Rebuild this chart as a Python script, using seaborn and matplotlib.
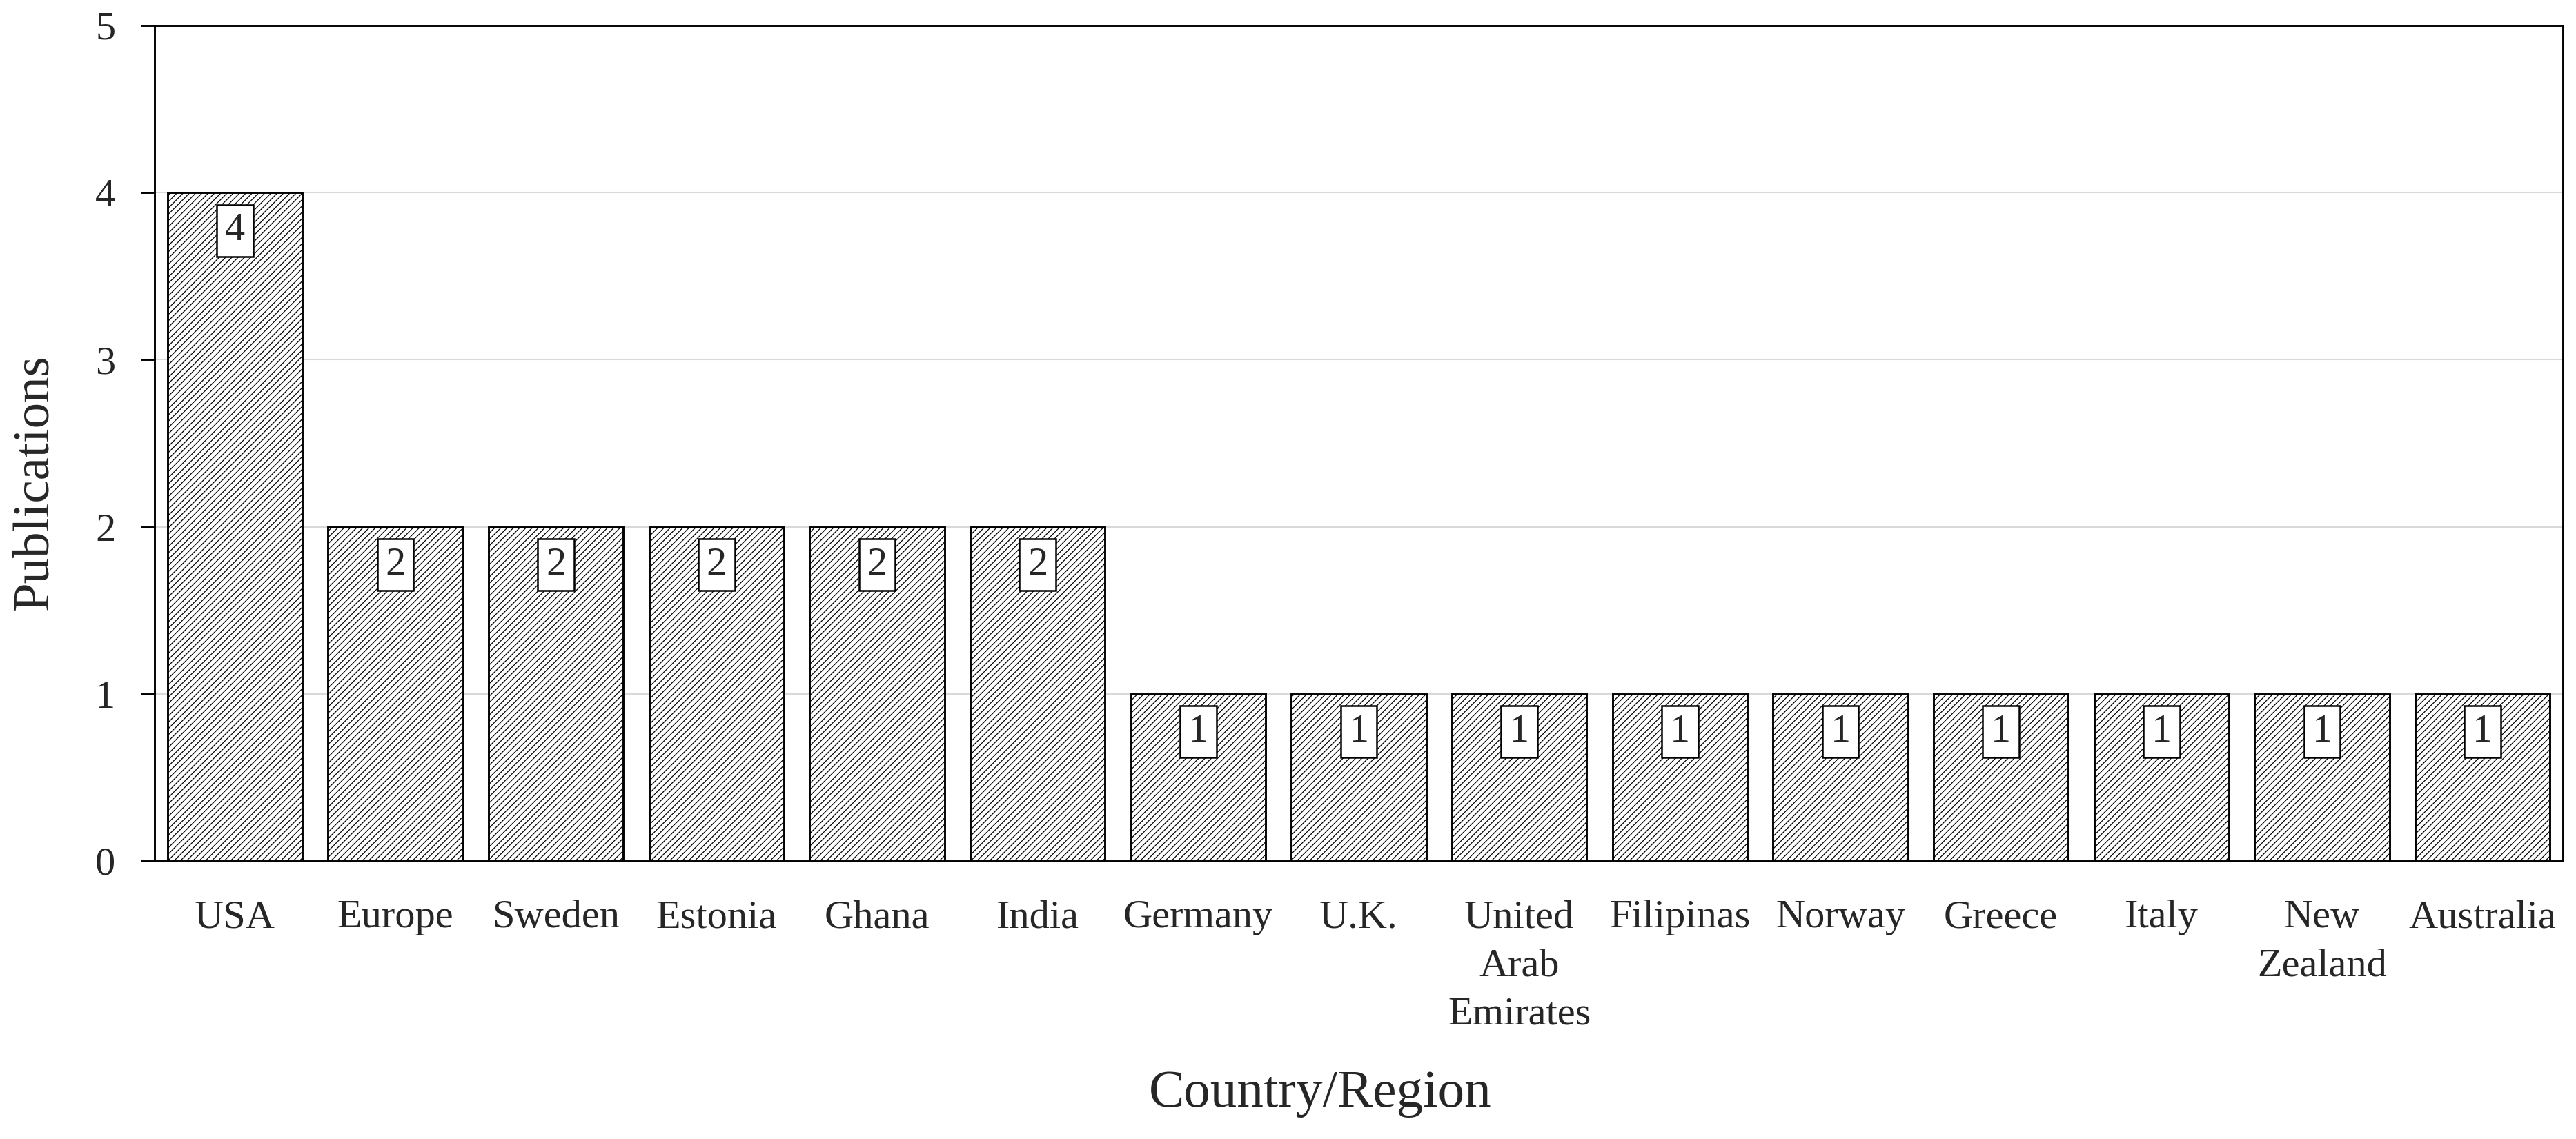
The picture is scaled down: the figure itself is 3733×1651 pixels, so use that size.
import matplotlib
matplotlib.use("Agg")
import matplotlib.pyplot as plt
import seaborn as sns
import pandas as pd

# ─────────────────────────────────────────────
# Data
# ─────────────────────────────────────────────

countries = [
    "USA", "Europe", "Sweden", "Estonia", "Ghana", "India", "Germany", "U.K.",
    "United\nArab\nEmirates", "Filipinas", "Norway", "Greece", "Italy",
    "New\nZealand", "Australia",
]
publications = [4, 2, 2, 2, 2, 2, 1, 1, 1, 1, 1, 1, 1, 1, 1]
y_ticks = [0, 1, 2, 3, 4, 5]

df = pd.DataFrame({"country": countries, "publications": publications})

# ─────────────────────────────────────────────
# Style
# ─────────────────────────────────────────────

sns.set_style("white")
plt.rcParams["font.family"] = ["Liberation Serif", "DejaVu Serif"]
plt.rcParams["hatch.linewidth"] = 0.3
plt.rcParams["hatch.color"] = "#7a7a7a"

fig = plt.figure(figsize=(3733 / 300, 1651 / 300), dpi=300)
ax = fig.add_axes([0.060, 0.2441, 0.9349, 0.7335])

sns.barplot(
    data=df, x="country", y="publications", ax=ax,
    color="white", edgecolor="black", linewidth=0.7,
    hatch="///////////", width=0.84, saturation=1, zorder=3,
)

# value labels in small white boxes near the top of each bar
for bar, val in zip(ax.patches, publications):
    ax.annotate(
        str(val), (bar.get_x() + bar.get_width() / 2, bar.get_height()),
        xytext=(0, -13.2), textcoords="offset points",
        ha="center", va="center", fontsize=14, zorder=5,
        bbox=dict(boxstyle="square,pad=0.2", facecolor="white",
                  edgecolor="black", linewidth=0.6),
    )

ax.set_ylim(0, 5)
ax.set_xlim(-0.5, len(countries) - 0.5)
ax.set_yticks(y_ticks)
ax.yaxis.grid(True, color="#d9d9d9", linewidth=0.5, zorder=0)
ax.set_axisbelow(True)

for side in ["left", "right", "top", "bottom"]:
    ax.spines[side].set_visible(True)
    ax.spines[side].set_color("black")
    ax.spines[side].set_linewidth(0.7)

ax.tick_params(axis="y", which="major", direction="out", length=4.8,
               width=0.7, color="black", pad=8.8, labelsize=14, left=True)
ax.tick_params(axis="x", length=0, pad=13.5, labelsize=14)
for lbl in ax.get_xticklabels():
    lbl.set_linespacing(1.45)

ax.set_xlabel("Country/Region", fontsize=18.5)
ax.set_ylabel("Publications", fontsize=18)
ax.xaxis.set_label_coords(0.484, -0.25)
ax.yaxis.set_label_coords(-0.040, 0.454)

fig.savefig("out.png", dpi=300)
plt.close(fig)
